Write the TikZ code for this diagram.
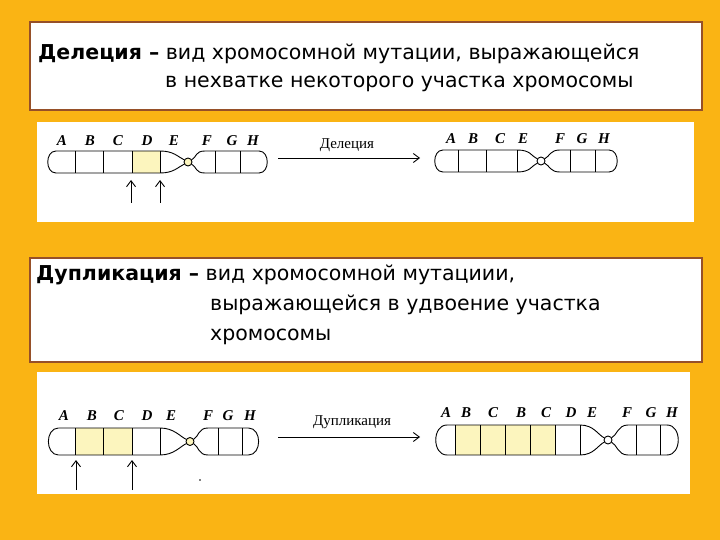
\documentclass[tikz,border=0pt]{standalone}
\usepackage{fontspec}
\setmainfont{DejaVu Sans}
\newfontfamily\serifcyr{Liberation Serif}
\definecolor{bgor}{RGB}{250,180,20}
\definecolor{boxbr}{RGB}{150,80,40}
\definecolor{cellyel}{RGB}{252,245,190}
\tikzset{
 txtbox/.style={draw=boxbr,line width=1.5pt,fill=white},
 panel/.style={fill=white,draw=none},
 chr/.style={line width=0.9pt},
 lett/.style={font=\serifcyr\itshape\bfseries\fontsize{15}{15}\selectfont,inner sep=0pt},
 lbl/.style={font=\serifcyr\fontsize{15}{15}\selectfont,inner sep=0pt},
 arr/.style={-{Straight Barb[length=6pt,width=9pt]},line width=0.9pt},
 deftext/.style={font=\fontsize{20.5}{20.5}\selectfont,inner sep=0pt,anchor=base west}
}
\usetikzlibrary{arrows.meta}
% xL xT xC xS xR yt yb
\newcommand{\mychromo}[7]{%
 \pgfmathsetmacro{\ym}{(#6+#7)/2}\pgfmathsetmacro{\rr}{(#7-#6)/2}%
 \draw[chr] (#1+\rr,#6) -- (#2,#6) .. controls (#2+14,#6) and (#3-10,\ym-5) .. (#3-3.5,\ym-2);
 \draw[chr] (#1+\rr,#7) -- (#2,#7) .. controls (#2+14,#7) and (#3-10,\ym+5) .. (#3-3.5,\ym+2);
 \draw[chr] (#3+3.5,\ym-2) .. controls (#3+9,\ym-5) and (#4-10,#6) .. (#4,#6) -- (#5-\rr,#6);
 \draw[chr] (#3+3.5,\ym+2) .. controls (#3+9,\ym+5) and (#4-10,#7) .. (#4,#7) -- (#5-\rr,#7);
 \draw[chr] (#1+\rr,#6) .. controls (#1,#6) and (#1,#7) .. (#1+\rr,#7);
 \draw[chr] (#5-\rr,#6) .. controls (#5,#6) and (#5,#7) .. (#5-\rr,#7);
 \draw[chr] (#3,\ym) circle[radius=4];
}
\begin{document}
\begin{tikzpicture}[x=1pt,y=-1pt]
\path[fill=bgor] (0,0) rectangle (720,540);
\useasboundingbox (0,0) rectangle (720,540);
% text boxes
\path[txtbox] (30,22) rectangle (702,110);
\node[deftext] (t1a) at (38,60) {\textbf{Делеция –} вид хромосомной мутации, выражающейся};
\node[deftext] (t1b) at (165,88) {в нехватке некоторого участка хромосомы};
\path[txtbox] (30,258) rectangle (702,362);
\node[deftext] (t2a) at (36,280) {\textbf{Дупликация –} вид хромосомной мутациии,};
\node[deftext] (t2b) at (210,310) {выражающейся в удвоение участка};
\node[deftext] (t2c) at (210,340) {хромосомы};
% panels
\path[panel] (37,122) rectangle (694,222);
\path[panel] (37,372) rectangle (690,494);
% --- deletion, left
\fill[cellyel] (132,151) rectangle (160,173);
\fill[cellyel] (188,162) circle[radius=4];
\mychromo{45}{160}{188}{205}{270}{151}{173}
\foreach \x in {75,103,132,160,215,240} \draw[chr] (\x,151) -- (\x,173);
\foreach \l/\x in {A/62,B/90,C/118,D/147,E/174,F/207,G/232,H/253}
  \node[lett] (d\l) at (\x,141) {\l};
\coordinate (da1s) at (131,203); \coordinate (da1e) at (131,180);
\coordinate (da2s) at (160,203); \coordinate (da2e) at (160,180);
\draw[arr] (da1s) -- (da1e);
\draw[arr] (da2s) -- (da2e);
\coordinate (dAs) at (278,158); \coordinate (dAe) at (420,158);
\draw[arr] (dAs) -- (dAe);
\node[lbl] (dlab) at (347,145) {Делеция};
% --- deletion, right
\mychromo{432}{517}{541}{560}{620}{150}{172}
\foreach \x in {458,486,517,570,595} \draw[chr] (\x,150) -- (\x,172);
\foreach \l/\x in {A/451,B/473,C/500,E/523,F/560,G/582,H/604}
  \node[lett] (r\l) at (\x,139) {\l};
% --- duplication, left
\fill[cellyel] (75,428) rectangle (132,455);
\fill[cellyel] (190,441.5) circle[radius=4];
\mychromo{45}{160}{190}{208}{262}{428}{455}
\foreach \x in {75,103,132,160,218,242} \draw[chr] (\x,428) -- (\x,455);
\foreach \l/\x in {A/64,B/92,C/119,D/147,E/171,F/208,G/228,H/250}
  \node[lett] (u\l) at (\x,416) {\l};
\coordinate (ua1s) at (76,490); \coordinate (ua1e) at (76,460);
\coordinate (ua2s) at (132,490); \coordinate (ua2e) at (132,460);
\draw[arr] (ua1s) -- (ua1e);
\draw[arr] (ua2s) -- (ua2e);
\fill (200,480) circle[radius=0.8];
\coordinate (uAs) at (278,437); \coordinate (uAe) at (420,437);
\draw[arr] (uAs) -- (uAe);
\node[lbl] (ulab) at (352,422) {Дупликация};
% --- duplication, right
\fill[cellyel] (455,425) rectangle (555,455);
\mychromo{432}{580}{608}{628}{682}{425}{455}
\foreach \x in {455,480,505,530,555,580,636,660} \draw[chr] (\x,425) -- (\x,455);
\foreach \l/\x in {A/446,B/466,C/493,B/521,C/546,D/571,E/592,F/627,G/651,H/672}
  \node[lett] at (\x,413) {\l};
\end{tikzpicture}
\end{document}
